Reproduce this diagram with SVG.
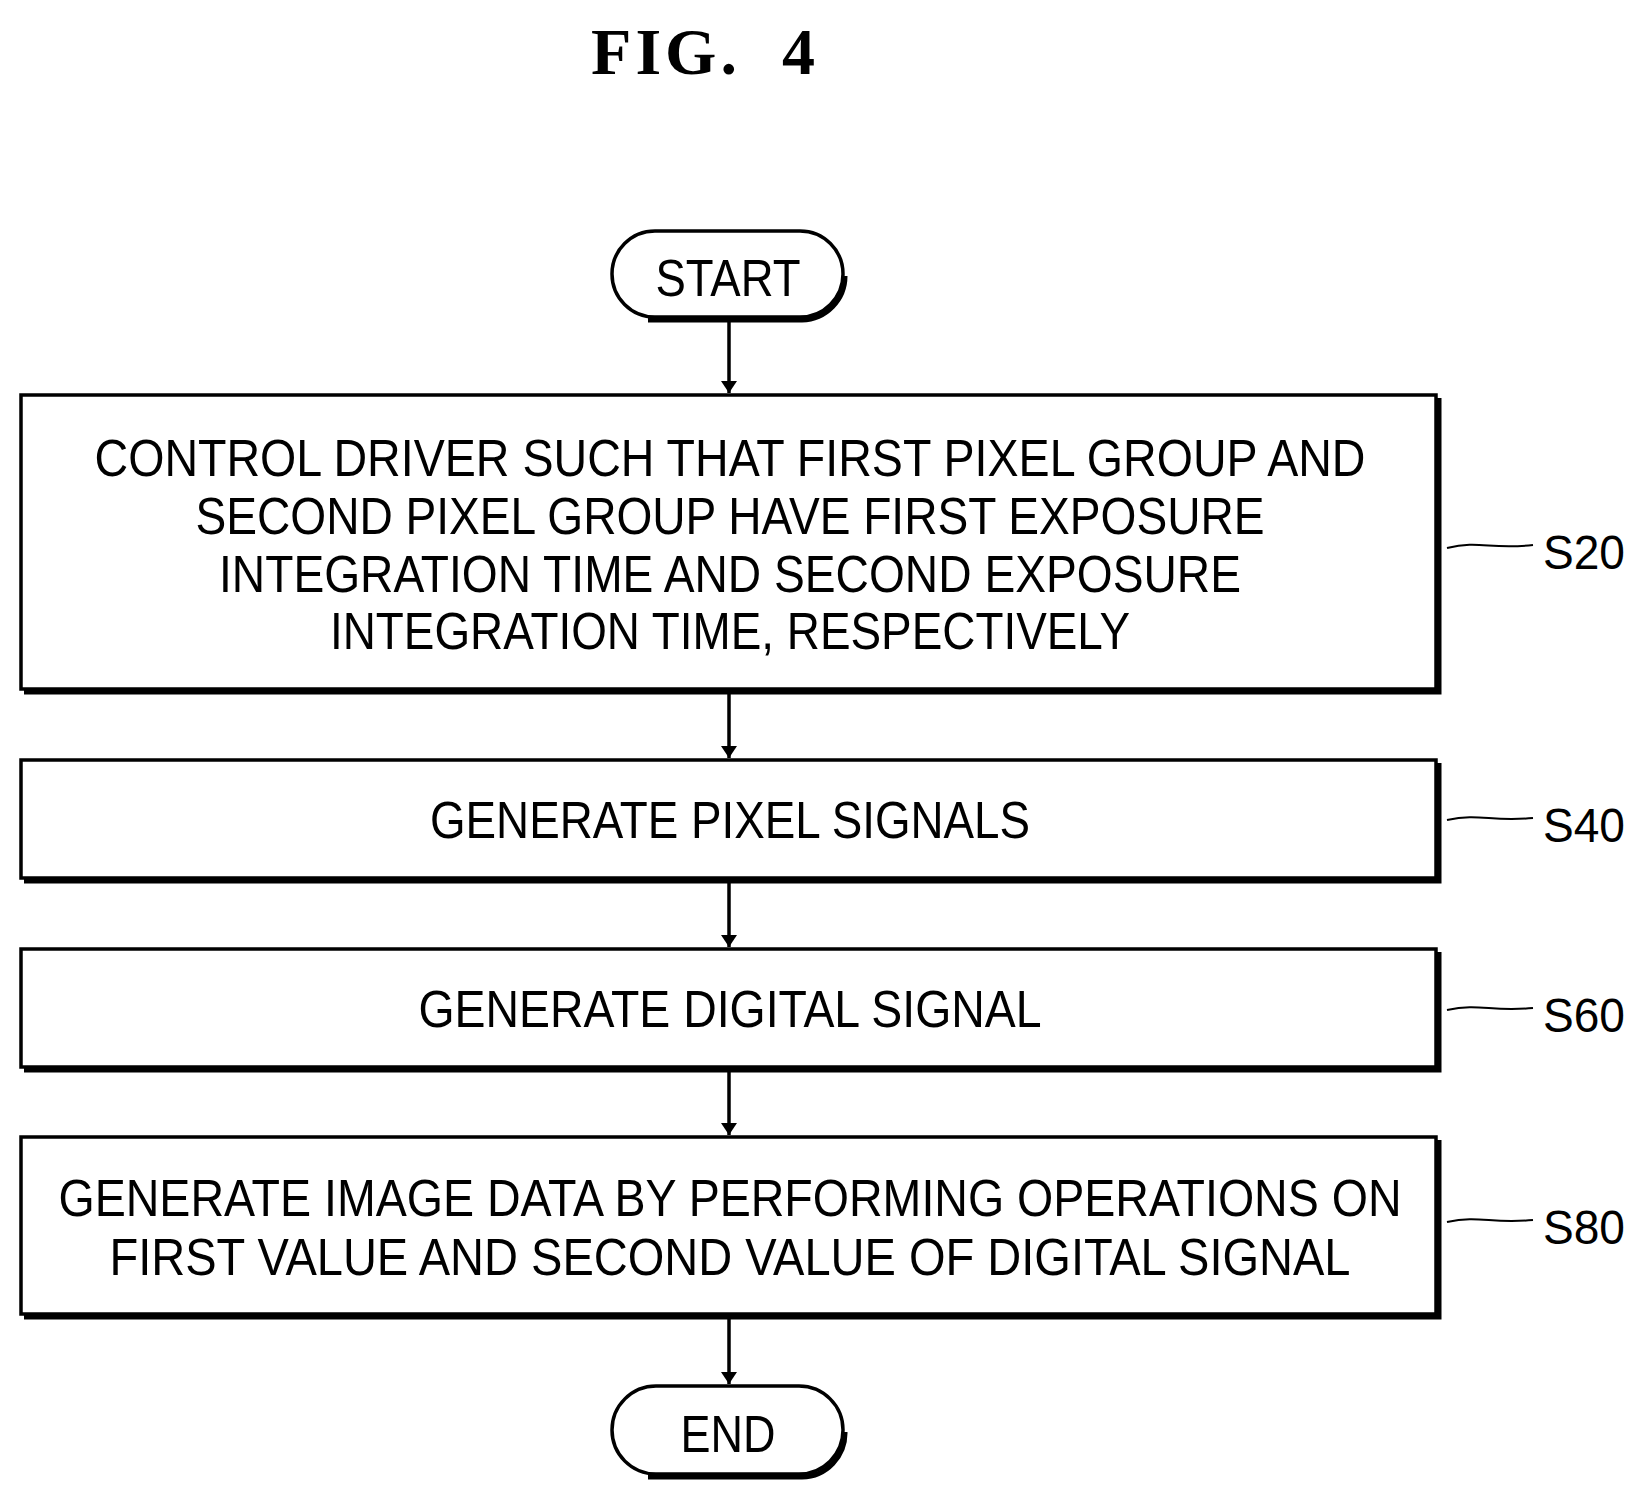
<svg xmlns="http://www.w3.org/2000/svg" width="1649" height="1504" viewBox="0 0 1649 1504">
<style>
.b{fill:#fff;stroke:#000;stroke-width:3.5}
.sh{fill:none;stroke:#000;stroke-width:5}
.t{font-family:"Liberation Sans",Arial,sans-serif;font-size:52px;text-anchor:middle;fill:#000}
.l{font-family:"Liberation Sans",Arial,sans-serif;font-size:48px;fill:#000}
.c{fill:none;stroke:#000;stroke-width:3.5}
.ld{fill:none;stroke:#000;stroke-width:2}
</style>
<defs><marker id="a" viewBox="0 0 12 24" refX="12" refY="12" markerWidth="12" markerHeight="24" markerUnits="userSpaceOnUse" orient="auto"><path d="M0,4 L12,12 L0,20 Z" fill="#000"/></marker></defs>
<rect width="1649" height="1504" fill="#fff"/>
<text x="705" y="74" font-family="Liberation Serif,serif" font-weight="bold" font-size="66" text-anchor="middle" letter-spacing="4" xml:space="preserve">FIG.  4</text>
<g id="connectors">
<line class="c" x1="729" y1="322" x2="729" y2="393" marker-end="url(#a)"/>
<line class="c" x1="729" y1="694" x2="729" y2="758" marker-end="url(#a)"/>
<line class="c" x1="729" y1="883" x2="729" y2="947" marker-end="url(#a)"/>
<line class="c" x1="729" y1="1072" x2="729" y2="1135" marker-end="url(#a)"/>
<line class="c" x1="729" y1="1319" x2="729" y2="1384" marker-end="url(#a)"/>
</g>
<g id="start"><rect class="b" x="612" y="231" width="231" height="86" rx="43"/><path class="sh" d="M648,320 H802 A44,44 0 0 0 845,276"/><text class="t" x="728" y="296" textLength="145" lengthAdjust="spacingAndGlyphs">START</text></g>
<g id="s20"><rect class="b" x="21" y="395" width="1415" height="294"/><path class="sh" d="M24,692 H1439 V398"/>
<text class="t" x="730" y="476" textLength="1271" lengthAdjust="spacingAndGlyphs">CONTROL DRIVER SUCH THAT FIRST PIXEL GROUP AND</text>
<text class="t" x="730" y="534" textLength="1069" lengthAdjust="spacingAndGlyphs">SECOND PIXEL GROUP HAVE FIRST EXPOSURE</text>
<text class="t" x="730" y="592" textLength="1022" lengthAdjust="spacingAndGlyphs">INTEGRATION TIME AND SECOND EXPOSURE</text>
<text class="t" x="730" y="649" textLength="800" lengthAdjust="spacingAndGlyphs">INTEGRATION TIME, RESPECTIVELY</text>
<path class="ld" d="M1447,548 C1480,540 1490,550 1533,545"/><text class="l" x="1543" y="569" textLength="82" lengthAdjust="spacingAndGlyphs">S20</text></g>
<g id="s40"><rect class="b" x="21" y="760" width="1415" height="118"/><path class="sh" d="M24,881 H1439 V763"/>
<text class="t" x="730" y="838" textLength="600" lengthAdjust="spacingAndGlyphs">GENERATE PIXEL SIGNALS</text>
<path class="ld" d="M1447,820 C1480,813 1490,822 1533,818"/><text class="l" x="1543" y="842" textLength="82" lengthAdjust="spacingAndGlyphs">S40</text></g>
<g id="s60"><rect class="b" x="21" y="949" width="1415" height="118"/><path class="sh" d="M24,1070 H1439 V952"/>
<text class="t" x="730" y="1027" textLength="623" lengthAdjust="spacingAndGlyphs">GENERATE DIGITAL SIGNAL</text>
<path class="ld" d="M1447,1010 C1480,1003 1490,1012 1533,1008"/><text class="l" x="1543" y="1032" textLength="82" lengthAdjust="spacingAndGlyphs">S60</text></g>
<g id="s80"><rect class="b" x="21" y="1137" width="1415" height="177"/><path class="sh" d="M24,1317 H1439 V1140"/>
<text class="t" x="730" y="1216" textLength="1343" lengthAdjust="spacingAndGlyphs">GENERATE IMAGE DATA BY PERFORMING OPERATIONS ON</text>
<text class="t" x="730" y="1275" textLength="1241" lengthAdjust="spacingAndGlyphs">FIRST VALUE AND SECOND VALUE OF DIGITAL SIGNAL</text>
<path class="ld" d="M1447,1222 C1480,1215 1490,1224 1533,1220"/><text class="l" x="1543" y="1244" textLength="82" lengthAdjust="spacingAndGlyphs">S80</text></g>
<g id="end"><rect class="b" x="612" y="1386" width="231" height="88" rx="44"/><path class="sh" d="M648,1477 H802 A44,44 0 0 0 845,1432"/><text class="t" x="728" y="1452" textLength="95" lengthAdjust="spacingAndGlyphs">END</text></g>
</svg>
